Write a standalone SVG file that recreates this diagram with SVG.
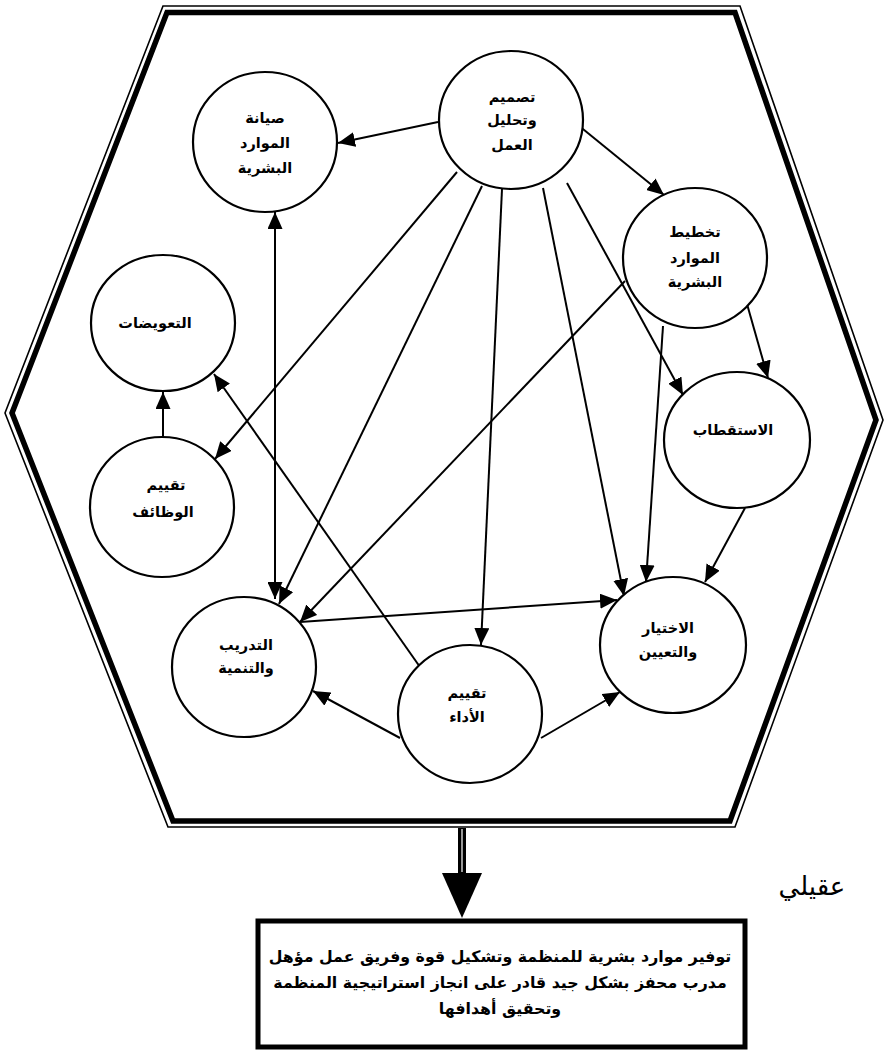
<svg xmlns="http://www.w3.org/2000/svg" width="885" height="1052" viewBox="0 0 885 1052">
<style>
.node{fill:#fff;stroke:#000;stroke-width:2.2}
.lbl{font-family:"DejaVu Sans",sans-serif;font-weight:bold;font-size:14.5px;text-anchor:middle;fill:#000}
.box{font-family:"DejaVu Sans",sans-serif;font-weight:bold;font-size:15.8px;text-anchor:middle;fill:#000}
.con{stroke:#000;stroke-width:2;fill:none}
</style>
<defs>
<marker id="ah" viewBox="0 0 17 15" refX="17" refY="7.5" markerWidth="17" markerHeight="15" markerUnits="userSpaceOnUse" orient="auto-start-reverse">
<path d="M0,0 L17,7.5 L0,15 Z" fill="#000"/>
</marker>
</defs>
<rect width="885" height="1052" fill="#fff"/>
<g id="frame">
<polygon points="163,6 740,6 883,420 735,827 168,827 5,413" fill="none" stroke="#000" stroke-width="1.6"/>
<polygon points="167,12.5 735,12.5 876,420 730,821 173,821 12,413" fill="none" stroke="#000" stroke-width="5.5"/>
</g>
<g id="connectors">
<line class="con" x1="438" y1="122" x2="338" y2="143" marker-end="url(#ah)"/>
<line class="con" x1="578" y1="125" x2="664" y2="195" marker-end="url(#ah)"/>
<line class="con" x1="457" y1="172" x2="215" y2="459" marker-end="url(#ah)"/>
<line class="con" x1="482" y1="186" x2="279" y2="604" marker-end="url(#ah)"/>
<line class="con" x1="502" y1="189" x2="481" y2="645" marker-end="url(#ah)"/>
<line class="con" x1="543" y1="188" x2="624" y2="596" marker-end="url(#ah)"/>
<line class="con" x1="567" y1="183" x2="683" y2="395" marker-end="url(#ah)"/>
<line class="con" x1="747" y1="304" x2="768" y2="378" marker-end="url(#ah)"/>
<line class="con" x1="663" y1="326" x2="646" y2="582" marker-end="url(#ah)"/>
<line class="con" x1="625" y1="281" x2="300" y2="622" marker-end="url(#ah)"/>
<line class="con" x1="745" y1="508" x2="705" y2="582" marker-end="url(#ah)"/>
<line class="con" x1="300" y1="622" x2="617" y2="600" marker-end="url(#ah)"/>
<line class="con" x1="400" y1="738" x2="313" y2="691" marker-end="url(#ah)"/>
<line class="con" x1="541" y1="738" x2="620" y2="692" marker-end="url(#ah)"/>
<line class="con" x1="420" y1="667" x2="214" y2="374" marker-end="url(#ah)"/>
<line class="con" x1="163" y1="437" x2="163" y2="392" marker-end="url(#ah)"/>
<line class="con" x1="275" y1="212" x2="275" y2="599" marker-start="url(#ah)" marker-end="url(#ah)"/>
<rect x="458" y="828" width="8" height="46" fill="#000"/>
<line x1="462" y1="829" x2="462" y2="872" stroke="#fff" stroke-width="1.2"/>
<polygon points="442,873 482,873 462,918" fill="#000"/>
</g>
<g id="n1"><ellipse class="node" cx="511" cy="120" rx="72" ry="69"/>
<text class="lbl" x="512" y="102">تصميم</text><text class="lbl" x="512" y="125">وتحليل</text><text class="lbl" x="512" y="150">العمل</text></g>
<g id="n2"><ellipse class="node" cx="265" cy="142" rx="72" ry="70"/>
<text class="lbl" x="265" y="123">صيانة</text><text class="lbl" x="265" y="148">الموارد</text><text class="lbl" x="265" y="173">البشرية</text></g>
<g id="n3"><ellipse class="node" cx="695" cy="258" rx="72" ry="70"/>
<text class="lbl" x="695" y="237">تخطيط</text><text class="lbl" x="695" y="263">الموارد</text><text class="lbl" x="695" y="287">البشرية</text></g>
<g id="n4"><ellipse class="node" cx="163" cy="323" rx="72" ry="68"/>
<text class="lbl" x="155" y="328">التعويضات</text></g>
<g id="n5"><ellipse class="node" cx="162" cy="507" rx="72" ry="70"/>
<text class="lbl" x="166" y="490">تقييم</text><text class="lbl" x="163" y="517">الوظائف</text></g>
<g id="n6"><ellipse class="node" cx="737" cy="440" rx="73" ry="68"/>
<text class="lbl" x="733" y="435">الاستقطاب</text></g>
<g id="n7"><ellipse class="node" cx="673" cy="645" rx="73" ry="68"/>
<text class="lbl" x="668" y="633">الاختيار</text><text class="lbl" x="668" y="657">والتعيين</text></g>
<g id="n8"><ellipse class="node" cx="244" cy="667" rx="72" ry="70"/>
<text class="lbl" x="246" y="650">التدريب</text><text class="lbl" x="246" y="673">والتنمية</text></g>
<g id="n9"><ellipse class="node" cx="470" cy="714" rx="72" ry="69"/>
<text class="lbl" x="467" y="698">تقييم</text><text class="lbl" x="467" y="722">الأداء</text></g>
<g id="result">
<rect x="258" y="921" width="487" height="126" fill="#fff" stroke="#000" stroke-width="5"/>
<text class="box" x="500" y="962">توفير موارد بشرية للمنظمة وتشكيل قوة وفريق عمل مؤهل</text>
<text class="box" x="500" y="988">مدرب محفز بشكل جيد قادر على انجاز استراتيجية المنظمة</text>
<text class="box" x="500" y="1014">وتحقيق أهدافها</text>
</g>
<text id="author" x="812" y="895" font-family="DejaVu Sans, sans-serif" font-size="26" text-anchor="middle">عقيلي</text>
</svg>
